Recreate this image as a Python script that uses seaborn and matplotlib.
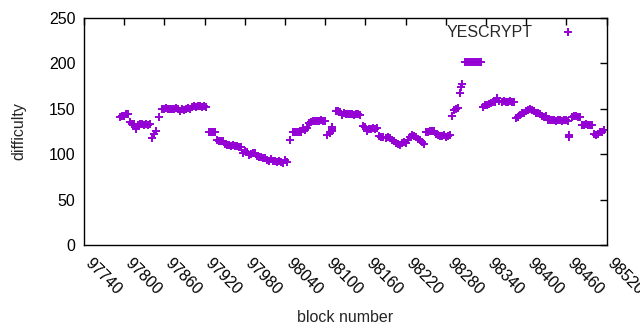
import matplotlib
matplotlib.use("Agg")
import matplotlib.pyplot as plt
import seaborn as sns
import pandas as pd

# block numbers and YESCRYPT difficulty
blocks = [
    97794, 97797, 97800, 97803, 97806, 97809, 97812, 97815, 97818,
    97821, 97824, 97827, 97830, 97833, 97836, 97838, 97841, 97844, 97847,
    97852, 97856, 97859, 97862, 97865, 97868, 97871, 97874, 97877, 97880,
    97883, 97886, 97889, 97892, 97895, 97898, 97901, 97904, 97907, 97910,
    97913, 97916, 97919, 97922, 97926, 97929, 97932, 97935, 97938, 97941,
    97944, 97947, 97950, 97953, 97956, 97959, 97962, 97965, 97968, 97971,
    97974, 97977, 97980, 97983, 97986, 97989, 97992, 97995, 97998, 98001,
    98004, 98007, 98010, 98013, 98016, 98019, 98022, 98025, 98028, 98031,
    98034, 98037, 98040, 98043, 98047, 98052, 98055, 98058, 98061, 98064,
    98067, 98070, 98073, 98076, 98079, 98082, 98085, 98088, 98091, 98094,
    98097, 98100, 98103, 98107, 98110, 98110, 98110, 98116, 98119, 98122,
    98125, 98128, 98131, 98134, 98137, 98140, 98143, 98146, 98149, 98152,
    98156, 98159, 98162, 98165, 98168, 98171, 98174, 98177, 98181, 98184,
    98187, 98190, 98193, 98196, 98199, 98202, 98205, 98208, 98211, 98214,
    98217, 98220, 98223, 98226, 98229, 98232, 98235, 98238, 98241, 98244,
    98247, 98250, 98253, 98256, 98259, 98262, 98265, 98268, 98271, 98274,
    98277, 98280, 98283, 98286, 98289, 98292, 98295, 98298, 98301, 98302,
    98304, 98308, 98311, 98314, 98317, 98320, 98323, 98326, 98329, 98332,
    98336, 98339, 98342, 98345, 98348, 98351, 98354, 98357, 98360, 98364,
    98367, 98370, 98373, 98376, 98379, 98382, 98384, 98387, 98390, 98393,
    98396, 98399, 98402, 98405, 98408, 98411, 98414, 98417, 98420, 98423,
    98426, 98429, 98432, 98435, 98438, 98441, 98444, 98447, 98450, 98453,
    98456, 98459, 98462, 98463, 98464, 98468, 98471, 98474, 98477, 98480,
    98483, 98486, 98489, 98492, 98495, 98498, 98501, 98504, 98507, 98510,
    98513, 98516,
]
difficulty = [
    141, 142, 142, 144, 144, 135, 133, 133, 128,
    132, 133, 133, 132, 133, 132, 133, 118, 122, 126,
    141, 150, 150, 151, 150, 150, 150, 150, 151, 150,
    148, 150, 149, 150, 151, 150, 152, 153, 152, 153,
    153, 152, 153, 152, 124, 124, 125, 124, 116, 115,
    115, 114, 111, 110, 110, 109, 110, 109, 109, 108,
    108, 101, 103, 102, 99, 100, 101, 101, 98, 97,
    97, 96, 96, 94, 93, 95, 93, 92, 91, 92,
    91, 90, 94, 91, 116, 125, 125, 124, 125, 125,
    129, 127, 129, 134, 136, 137, 137, 137, 137, 138,
    137, 137, 121, 123, 126, 128, 130, 148, 148, 147,
    143, 145, 144, 144, 144, 144, 143, 144, 144, 143,
    131, 130, 126, 128, 128, 129, 128, 129, 120, 119,
    119, 118, 119, 118, 116, 114, 112, 111, 110, 112,
    113, 112, 116, 119, 121, 120, 119, 117, 116, 113,
    111, 125, 125, 126, 126, 126, 122, 121, 120, 120,
    121, 119, 120, 121, 142, 149, 150, 151, 168, 174,
    177, 202, 202, 202, 202, 202, 202, 202, 202, 202,
    152, 154, 154, 155, 156, 158, 158, 162, 159, 158,
    159, 158, 158, 159, 158, 158, 140, 141, 143, 145,
    145, 148, 149, 150, 149, 148, 145, 145, 144, 142,
    141, 142, 138, 138, 138, 138, 137, 138, 138, 137,
    138, 138, 137, 121, 119, 141, 142, 142, 141, 141,
    132, 132, 133, 132, 132, 132, 122, 121, 122, 124,
    125, 127,
]

df = pd.DataFrame({"block": blocks, "difficulty": difficulty})

sns.set_style("white")
plt.rcParams["font.family"] = ["Liberation Sans", "DejaVu Sans"]

fig = plt.figure(figsize=(6.4, 3.3), dpi=100)
ax = fig.add_axes([0.131, 0.258, 0.817, 0.687])

sns.scatterplot(data=df, x="block", y="difficulty", marker="+", s=28,
                color="#9400D3", linewidth=1.4, label="YESCRYPT", ax=ax)

ax.set_xlim(97740, 98520)
ax.set_ylim(0, 250)
ax.set_xticks(range(97740, 98521, 60))
ax.set_yticks(range(0, 251, 50))
ax.tick_params(direction="in", length=5, width=1, top=True, right=True,
               labelsize=11.5, colors="black")
ax.tick_params(axis="x", pad=14)
ax.tick_params(axis="y", pad=6)
for lbl in ax.get_xticklabels():
    lbl.set_rotation(-45)
    lbl.set_ha("left")
    lbl.set_va("baseline")
    lbl.set_rotation_mode("anchor")
for sp in ax.spines.values():
    sp.set_color("black")
    sp.set_linewidth(1)

ax.set_xlabel("block number", fontsize=11.5, labelpad=9)
ax.set_ylabel("difficulty", fontsize=11.5, labelpad=16)

ax.legend(loc="upper right", frameon=False, markerfirst=False, fontsize=11.5,
          handletextpad=1.2, handlelength=2.0, borderaxespad=0.0,
          bbox_to_anchor=(0.969, 1.0))

fig.savefig("out.png", dpi=100)
